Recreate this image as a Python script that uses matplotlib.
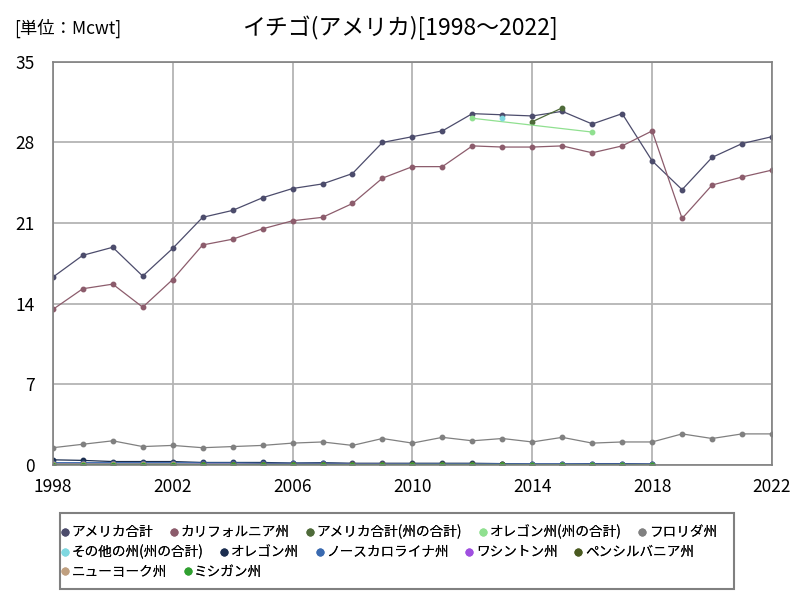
import matplotlib
matplotlib.use("Agg")
import matplotlib.pyplot as plt
from matplotlib.patches import Rectangle

plt.rcParams["font.family"] = ["Noto Sans CJK JP", "DejaVu Sans"]

years = list(range(1998, 2023))
years_to_2018 = list(range(1998, 2019))

# US total (Mcwt)
us_total = [16.3, 18.2, 18.9, 16.4, 18.8, 21.5, 22.1, 23.2, 24.0, 24.4, 25.3, 28.0,
            28.5, 29.0, 30.5, 30.4, 30.3, 30.7, 29.6, 30.5, 26.4, 23.9, 26.7, 27.9, 28.5]
california = [13.5, 15.3, 15.7, 13.7, 16.1, 19.1, 19.6, 20.5, 21.2, 21.5, 22.7, 24.9,
              25.9, 25.9, 27.7, 27.6, 27.6, 27.7, 27.1, 27.7, 29.0, 21.4, 24.3, 25.0, 25.6]
us_states_years = [2014, 2015]
us_states_total = [29.8, 31.0]
oregon_total_years = [2012, 2016]
oregon_total = [30.1, 28.9]
florida = [1.5, 1.8, 2.1, 1.6, 1.7, 1.5, 1.6, 1.7, 1.9, 2.0, 1.7, 2.3,
           1.9, 2.4, 2.1, 2.3, 2.0, 2.4, 1.9, 2.0, 2.0, 2.7, 2.3, 2.7, 2.7]
other_years = [2013]
other_total = [30.1]
oregon = [0.45, 0.4, 0.3, 0.3, 0.3, 0.22, 0.22, 0.22, 0.17, 0.2, 0.15, 0.15,
          0.15, 0.15, 0.15, 0.12, 0.08, 0.08, 0.12, 0.12, 0.08]
north_carolina = [0.2, 0.2, 0.2, 0.2, 0.2, 0.18, 0.18, 0.15, 0.15, 0.15, 0.12, 0.12,
                  0.12, 0.12, 0.12, 0.12, 0.1, 0.1, 0.1, 0.1, 0.08]
washington = [0.08, 0.08, 0.07, 0.07, 0.06, 0.06, 0.06, 0.05, 0.05, 0.05, 0.05, 0.05,
              0.04, 0.04, 0.04, 0.04, 0.04, 0.04, 0.04, 0.04, 0.04]
pennsylvania = [0.06, 0.06, 0.06, 0.06, 0.06, 0.05, 0.05, 0.05, 0.05, 0.05, 0.05, 0.05,
                0.05, 0.05, 0.05, 0.05, 0.04, 0.04, 0.04, 0.04, 0.04]
new_york = [0.05, 0.05, 0.05, 0.05, 0.05, 0.04, 0.04, 0.04, 0.04, 0.04, 0.04, 0.04,
            0.04, 0.04, 0.04, 0.03, 0.03, 0.03, 0.03, 0.03, 0.03]
michigan = [0.04, 0.04, 0.04, 0.04, 0.04, 0.03, 0.03, 0.03, 0.03, 0.03, 0.03, 0.03,
            0.03, 0.03, 0.03, 0.03, 0.02, 0.02, 0.02, 0.02, 0.02]

series = [
    ("アメリカ合計", years, us_total, "#4c4c6c"),
    ("カリフォルニア州", years, california, "#8c5c6c"),
    ("アメリカ合計(州の合計)", us_states_years, us_states_total, "#4f6b3a"),
    ("オレゴン州(州の合計)", oregon_total_years, oregon_total, "#90e090"),
    ("フロリダ州", years, florida, "#808080"),
    ("その他の州(州の合計)", other_years, other_total, "#80d8e0"),
    ("オレゴン州", years_to_2018, oregon, "#1c2e50"),
    ("ノースカロライナ州", years_to_2018, north_carolina, "#3a6ab0"),
    ("ワシントン州", years_to_2018, washington, "#a050e0"),
    ("ペンシルバニア州", years_to_2018, pennsylvania, "#4a5a20"),
    ("ニューヨーク州", years_to_2018, new_york, "#c0a080"),
    ("ミシガン州", years_to_2018, michigan, "#30a030"),
]

fig = plt.figure(figsize=(8, 6), dpi=100)
ax = fig.add_axes([0.066, 0.225, 0.899, 0.672])

handles = []
for label, xs, ys, color in series:
    h, = ax.plot(xs, ys, color=color, marker="o", markersize=3.2, linewidth=0.9, label=label)
    handles.append(h)

ax.set_xlim(1998, 2022)
ax.set_ylim(0, 35)
ax.set_xticks(range(1998, 2023, 4))
ax.set_yticks(range(0, 36, 7))
ax.tick_params(length=0, labelsize=12.5)
ax.tick_params(axis="x", pad=9)
ax.tick_params(axis="y", pad=13)
ax.grid(True, color="#b4b4b4", linewidth=1.3)
ax.set_axisbelow(True)
for sp in ax.spines.values():
    sp.set_color("#808080")
    sp.set_linewidth(1.2)

fig.text(0.5, 0.953, "イチゴ(アメリカ)[1998～2022]", ha="center", va="center", fontsize=16.5)
fig.text(0.018, 0.953, "[単位：Mcwt]", ha="left", va="center", fontsize=12.5)

# legend: three rows flowing left to right, inside one frame
rows = [[0, 1, 2, 3, 4], [5, 6, 7, 8, 9], [10, 11]]
row_y = [532, 552, 572]
for idx, y in zip(rows, row_y):
    lg = fig.legend([handles[i] for i in idx], [series[i][0] for i in idx],
                    loc="center left", bbox_to_anchor=(62 / 800, 1 - y / 600),
                    ncol=len(idx), fontsize=9.8, frameon=False, handlelength=0.45,
                    handletextpad=0.25, columnspacing=1.3, borderpad=0,
                    borderaxespad=0, markerscale=1.5)
    for lh in lg.get_lines():
        lh.set_linestyle("none")
    fig.add_artist(lg)

fig.add_artist(Rectangle((60 / 800, 11 / 600), 674 / 800, 76 / 600,
                         transform=fig.transFigure, fill=False,
                         edgecolor="#808080", linewidth=1.5))

fig.savefig("out.png", dpi=100)
